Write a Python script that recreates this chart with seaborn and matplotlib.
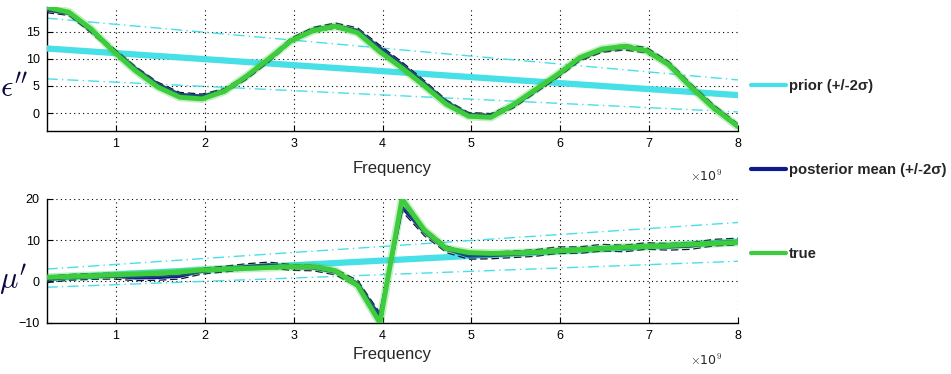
import numpy as np
import pandas as pd
import matplotlib
matplotlib.use("Agg")
import matplotlib.pyplot as plt
import seaborn as sns

# frequency grid, GHz (axis shows x10^9)
freq = [0.22, 0.47, 0.72, 0.97, 1.22, 1.47, 1.72, 1.97, 2.22, 2.47, 2.72, 2.97,
        3.22, 3.47, 3.72, 3.97, 4.22, 4.47, 4.72, 4.97, 5.22, 5.47, 5.72, 5.97,
        6.22, 6.47, 6.72, 6.97, 7.22, 7.47, 7.72, 8.0]

# epsilon'' panel
eps_true = [19.5, 18.6, 15.5, 11.4, 7.8, 4.8, 2.9, 2.6, 4.0, 6.8, 10.0, 13.3,
            15.2, 16.0, 14.8, 11.3, 8.3, 5.0, 1.6, -0.6, -0.8, 1.5, 4.3, 7.1,
            10.2, 11.8, 12.3, 11.5, 8.9, 4.8, 1.0, -2.5]
eps_post = [19.0, 18.4, 15.2, 11.6, 8.2, 5.3, 3.4, 3.1, 4.1, 6.6, 9.8, 13.4,
            15.4, 16.1, 15.2, 12.0, 8.9, 5.5, 2.0, -0.3, -0.5, 1.3, 4.1, 6.9,
            10.0, 11.6, 12.1, 11.6, 9.1, 5.0, 1.2, -2.4]
eps_post_2sd = [0.5, 0.4, 0.4, 0.4, 0.4, 0.4, 0.4, 0.4, 0.4, 0.4, 0.4, 0.4,
                0.4, 0.5, 0.5, 0.5, 0.5, 0.5, 0.4, 0.4, 0.4, 0.4, 0.4, 0.4,
                0.4, 0.4, 0.5, 0.5, 0.4, 0.4, 0.4, 0.4]
eps_prior_f = [0.22, 8.0]
eps_prior_mean = [11.9, 3.3]
eps_prior_hi = [17.5, 6.1]
eps_prior_lo = [6.3, 0.2]

# mu' panel
mu_true = [1.0, 1.2, 1.4, 1.6, 1.8, 2.0, 2.3, 2.8, 3.0, 3.2, 3.4, 3.6,
           3.6, 2.6, -1.0, -10.0, 20.0, 12.5, 8.0, 7.0, 6.8, 6.9, 7.1, 7.4,
           7.7, 8.0, 8.3, 8.5, 8.7, 9.0, 9.2, 9.5]
mu_post = [0.5, 1.0, 1.2, 1.3, 0.9, 1.0, 1.3, 2.5, 3.0, 3.6, 4.0, 3.4,
           3.3, 2.3, -0.5, -8.5, 18.0, 12.0, 7.8, 6.2, 6.3, 6.6, 6.9, 7.6,
           7.6, 8.2, 8.0, 8.6, 8.4, 8.6, 9.4, 9.7]
mu_post_2sd = [0.8, 0.7, 0.7, 0.7, 0.7, 0.7, 0.7, 0.7, 0.7, 0.7, 0.7, 0.7,
               0.7, 0.7, 0.8, 0.9, 1.0, 0.9, 0.8, 0.8, 0.8, 0.8, 0.8, 0.8,
               0.8, 0.8, 0.8, 0.8, 0.8, 0.8, 0.8, 0.8]
mu_prior_f = [0.22, 8.0]
mu_prior_mean = [0.8, 9.6]
mu_prior_hi = [3.0, 14.3]
mu_prior_lo = [-1.4, 4.9]

c_prior = "#46e0e6"
c_post = "#0d1a8c"
c_true = "#3ccc3c"

sns.set_style("white")
plt.rcParams["font.family"] = ["Liberation Sans", "DejaVu Sans"]
plt.rcParams["mathtext.fontset"] = "cm"

fig = plt.figure(figsize=(9.51, 3.74), dpi=100)
ax1 = fig.add_axes([0.049, 0.650, 0.727, 0.332])
ax2 = fig.add_axes([0.049, 0.137, 0.727, 0.331])


def panel(ax, true, post, post_2sd, pf, pmean, phi, plo, ylim, yticks, ylab,
          ylab_y, xlab_pad, exp_y):
    df = pd.DataFrame({"freq": freq, "true": true, "post": post, "sd": post_2sd})
    prior = pd.DataFrame({"freq": pf, "mean": pmean, "hi": phi, "lo": plo})

    for col in ["hi", "lo"]:
        sns.lineplot(data=prior, x="freq", y=col, ax=ax, color=c_prior, lw=1.0,
                     linestyle=(0, (8, 3, 1, 3)), zorder=2)
    sns.lineplot(data=prior, x="freq", y="mean", ax=ax, color=c_prior, lw=4.5,
                 zorder=3)
    sns.lineplot(x=df["freq"], y=df["post"] + df["sd"], ax=ax, color="#111133",
                 lw=0.9, linestyle=(0, (6, 3)), zorder=4)
    sns.lineplot(x=df["freq"], y=df["post"] - df["sd"], ax=ax, color="#111133",
                 lw=0.9, linestyle=(0, (6, 3)), zorder=4)
    sns.lineplot(data=df, x="freq", y="post", ax=ax, color=c_post, lw=2.5, zorder=5)
    sns.lineplot(data=df, x="freq", y="true", ax=ax, color=c_true, lw=6,
                 alpha=0.3, zorder=6)
    sns.lineplot(data=df, x="freq", y="true", ax=ax, color=c_true, lw=3.5, zorder=7)

    ax.set_xlim(0.22, 8.0)
    ax.set_ylim(*ylim)
    ax.set_xticks(range(1, 9))
    ax.set_yticks(yticks)
    ax.grid(True, color="black", linestyle=(0, (1, 3)), lw=0.8)
    for s in ["top", "right"]:
        ax.spines[s].set_visible(False)
    for s in ["left", "bottom"]:
        ax.spines[s].set_color("black")
        ax.spines[s].set_linewidth(1.0)
    ax.tick_params(direction="in", length=4, labelsize=9, pad=5,
                   left=True, bottom=True, colors="black")
    ax.set_xlabel("Frequency", fontsize=12, labelpad=xlab_pad)
    ax.set_ylabel(ylab, fontsize=22, rotation=0, color="#0a0a40",
                  ha="center", va="center")
    ax.yaxis.set_label_coords(-0.048, ylab_y)
    fig.text(0.759, exp_y, r"$\times$10$^{9}$", fontsize=9, ha="right",
             va="center", family="DejaVu Sans")


panel(ax1, eps_true, eps_post, eps_post_2sd, eps_prior_f, eps_prior_mean,
      eps_prior_hi, eps_prior_lo, (-3.3, 19.6), [0, 5, 10, 15],
      r"$\epsilon''$", 0.34, 8, 0.528)
panel(ax2, mu_true, mu_post, mu_post_2sd, mu_prior_f, mu_prior_mean,
      mu_prior_hi, mu_prior_lo, (-10, 20), [-10, 0, 10, 20],
      r"$\mu'$", 0.35, 4, 0.036)

handles = [plt.Line2D([], [], color=c_prior, lw=3),
           plt.Line2D([], [], color=c_post, lw=3),
           plt.Line2D([], [], color=c_true, lw=3)]
labels = ["prior (+/-2\u03c3)", "posterior mean (+/-2\u03c3)", "true"]
fig.legend(handles, labels, loc="center left", bbox_to_anchor=(0.776, 0.545),
           frameon=False, labelspacing=4.7, handlelength=2.3, handletextpad=0.25,
           prop={"weight": "bold", "size": 10.7})

fig.savefig("out.png", dpi=100)
